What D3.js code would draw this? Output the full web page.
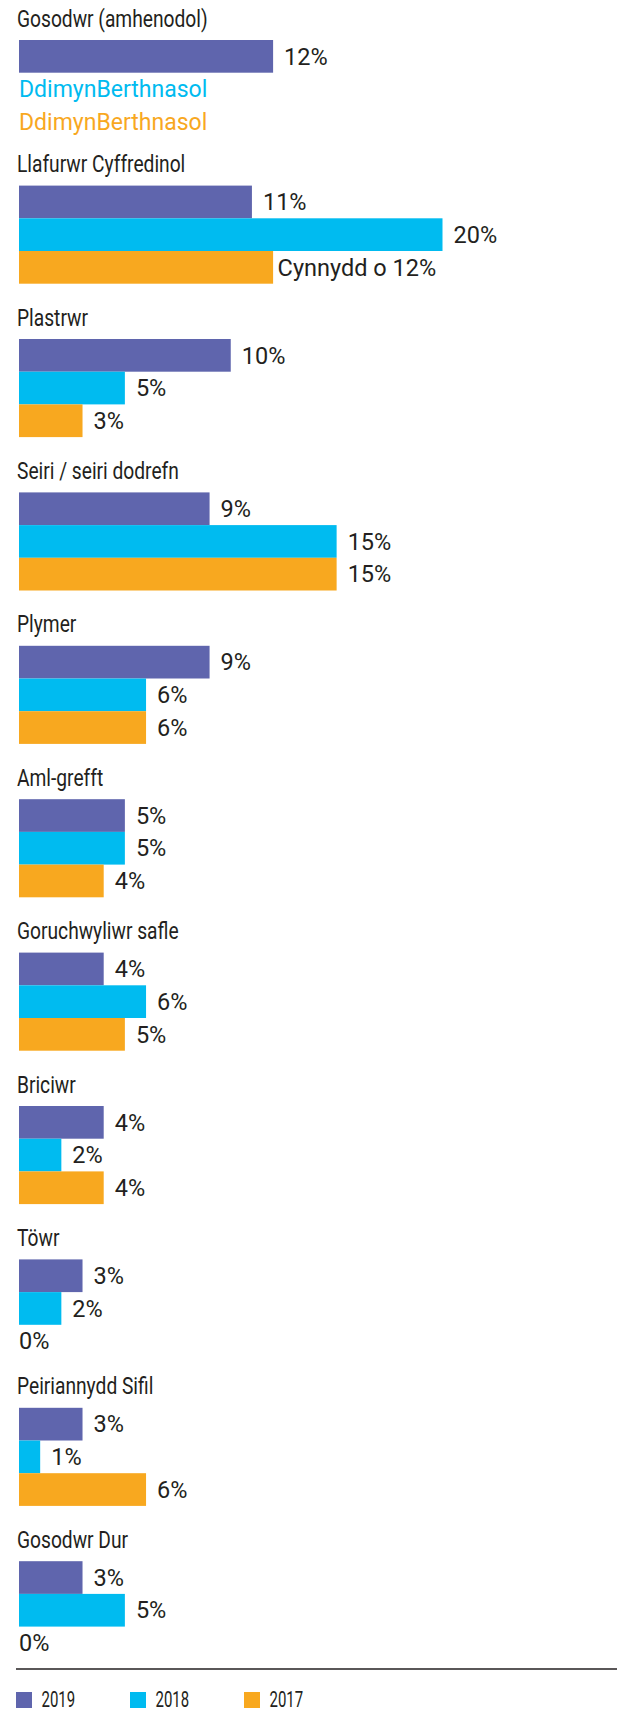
<!DOCTYPE html>
<html>
<head>
<meta charset="utf-8">
<script src="https://cdn.jsdelivr.net/npm/d3@7"></script>
<style>
  html, body { margin: 0; padding: 0; background: #ffffff; }
  svg { display: block; }
  text { font-family: Roboto, "Noto Sans", sans-serif; fill: #231f20; }
</style>
</head>
<body>
<svg id="chart"></svg>
<script>
// Trades, share of responses by year
const categories = [
  "Gosodwr (amhenodol)",
  "Llafurwr Cyffredinol",
  "Plastrwr",
  "Seiri / seiri dodrefn",
  "Plymer",
  "Aml-grefft",
  "Goruchwyliwr safle",
  "Briciwr",
  "Töwr",
  "Peiriannydd Sifil",
  "Gosodwr Dur"
];
const years = ["2019", "2018", "2017"];
const values2019 = [12, 11, 10, 9, 9, 5, 4, 4, 3, 3, 3];
const values2018 = [null, 20, 5, 15, 6, 5, 6, 2, 2, 1, 5];
const values2017 = [null, 12, 3, 15, 6, 4, 5, 4, 0, 6, 0];
const notRelevant = "DdimynBerthnasol";
const labelPrefix2017 = ["", "Cynnydd o ", "", "", "", "", "", "", "", "", ""];
const colors = ["#5f65ad", "#00bbf0", "#f8a81f"];

const W = 617, H = 1713;
const svg = d3.select("#chart").attr("width", W).attr("height", H);

const series = [values2019, values2018, values2017];
const rows = categories.map((c, i) => ({
  name: c,
  index: i,
  items: years.map((y, k) => ({
    year: y, k, value: series[k][i],
    prefix: k === 2 ? labelPrefix2017[i] : ""
  }))
}));

// scales
const x = d3.scaleLinear().domain([0, 20]).range([19, 442.5]);
const rowBand = d3.scaleBand().domain(years).range([0, 98.1]).padding(0);
const color = d3.scaleOrdinal().domain(years).range(colors);

// vertical stacking of the groups: a row holding only a "0%" text is a little shorter
const groupStep = 153.4, zeroRowTrim = 5;
const tops = [];
rows.forEach((r, i) => {
  if (i === 0) tops.push(40);
  else if (i === 1) tops.push(185.6);
  else {
    const prev = rows[i - 1];
    const trim = prev.items.some(d => d.value === 0) ? zeroRowTrim : 0;
    tops.push(tops[i - 1] + groupStep - trim);
  }
});

const titleScale = 0.8;
const labelGap = 11;

const groups = svg.selectAll("g.group").data(rows).join("g")
  .attr("class", "group")
  .attr("transform", d => `translate(0,${tops[d.index]})`);

// group titles (condensed)
groups.append("g")
  .attr("transform", `translate(17,-13.5) scale(${titleScale},1)`)
  .append("text")
  .attr("font-size", 24)
  .text(d => d.name);

const items = groups.selectAll("g.item").data(d => d.items).join("g")
  .attr("class", "item")
  .attr("transform", d => `translate(0,${rowBand(d.year)})`);

// bars
items.filter(d => d.value !== null && d.value > 0)
  .append("rect")
  .attr("x", x(0))
  .attr("y", 0)
  .attr("width", d => x(d.value) - x(0))
  .attr("height", rowBand.bandwidth())
  .attr("fill", d => color(d.year));

// value labels
items.filter(d => d.value !== null)
  .append("text")
  .attr("font-size", 23.5)
  .attr("x", d => d.value > 0 ? x(d.value) + (d.prefix ? 4.5 : labelGap) : x(0))
  .attr("y", rowBand.bandwidth() / 2)
  .attr("dy", "0.35em")
  .text(d => d.prefix + d.value + "%");

// not-relevant notes
items.filter(d => d.value === null)
  .append("text")
  .attr("font-size", 23)
  .attr("x", x(0))
  .attr("y", rowBand.bandwidth() / 2)
  .attr("dy", "0.35em")
  .style("fill", d => color(d.year))
  .text(notRelevant);

// legend
svg.append("line")
  .attr("x1", 16).attr("x2", W)
  .attr("y1", 1669).attr("y2", 1669)
  .attr("stroke", "#231f20").attr("stroke-width", 1.6);

const legend = svg.selectAll("g.legend").data(years).join("g")
  .attr("class", "legend")
  .attr("transform", (d, i) => `translate(${16 + i * 114},1692)`);
legend.append("rect")
  .attr("width", 16).attr("height", 16)
  .attr("fill", d => color(d));
legend.append("g")
  .attr("transform", "translate(25.5,15) scale(0.68,1)")
  .append("text")
  .attr("font-size", 22)
  .text(d => d);
</script>
</body>
</html>
